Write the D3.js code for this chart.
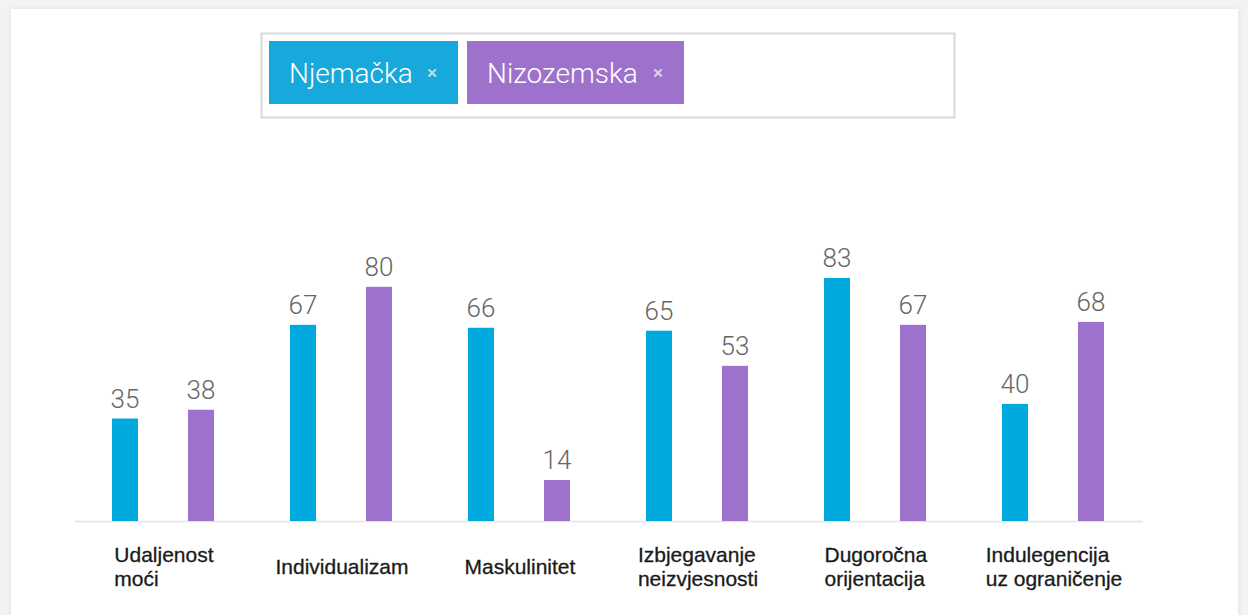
<!DOCTYPE html>
<html>
<head>
<meta charset="utf-8">
<script src="https://cdn.jsdelivr.net/npm/d3@7"></script>
<style>
  body { margin: 0; background: #f3f3f3; overflow: hidden; }
  #card { position: absolute; left: 11px; top: 9px; width: 1227px; height: 620px; background: #fff;
          box-shadow: 0 0 6px rgba(0,0,0,0.08); }
  svg { position: absolute; left: 0; top: 0; }
</style>
</head>
<body>
<div id="card"></div>
<svg width="1248" height="615"></svg>
<script>
// categories and series
var categories = [
  ["Udaljenost", "moći"],
  ["Individualizam"],
  ["Maskulinitet"],
  ["Izbjegavanje", "neizvjesnosti"],
  ["Dugoročna", "orijentacija"],
  ["Indulegencija", "uz ograničenje"]
];
var seriesNames = ["Njemačka", "Nizozemska"];
var njemacka = [35, 67, 66, 65, 83, 40];
var nizozemska = [38, 80, 14, 53, 67, 68];
var colors = ["#00a9de", "#9d72cc"];
var chipColors = ["#17a9dc", "#9e72cc"];

var svg = d3.select("svg");
var baseY = 521;

var catKeys = categories.map(function(c){ return c.join(" "); });
var x0 = d3.scaleBand().domain(catKeys).range([75, 1143]);
var x1 = d3.scaleBand().domain(seriesNames).range([12, 164]);
var y = d3.scaleLinear().domain([0, 83]).range([baseY, 278]);
var barW = 26;

var rows = catKeys.map(function(k, i){
  return { key: k, lines: categories[i], vals: [njemacka[i], nizozemska[i]] };
});

// legend box with chips
svg.append("rect").attr("x", 261.5).attr("y", 33.5).attr("width", 693).attr("height", 84)
  .attr("fill", "#fff").attr("stroke", "#d9d9d9").attr("stroke-width", 2);
var chipX = [269, 467], chipW = [189, 217];
seriesNames.forEach(function(s, i){
  var g = svg.append("g").attr("transform", "translate(" + chipX[i] + ",41)");
  g.append("rect").attr("width", chipW[i]).attr("height", 63).attr("fill", chipColors[i]);
  g.append("text").attr("x", 20).attr("y", 42).text(s)
    .attr("fill", "#fff").style("font-family", "Roboto").style("font-weight", 300)
    .style("font-size", "28px");
  g.append("text").attr("x", chipW[i] - 31).attr("y", 38).text("×")
    .attr("fill", "rgba(225,225,225,0.9)").style("font-family", "Roboto")
    .style("font-weight", 500).style("font-size", "19px");
});

// axis line
svg.append("line").attr("x1", 75).attr("x2", 1143).attr("y1", baseY + 0.5).attr("y2", baseY + 0.5)
  .attr("stroke", "#e3e3e3").attr("stroke-width", 1.5);

var groups = svg.selectAll("g.grp").data(rows).enter().append("g")
  .attr("class", "grp")
  .attr("transform", function(d){ return "translate(" + x0(d.key) + ",0)"; });

groups.selectAll("rect").data(function(d){ return d.vals; }).enter().append("rect")
  .attr("x", function(v, j){ return x1(seriesNames[j]) + x1.bandwidth()/2 - barW/2; })
  .attr("y", function(v){ return y(v); })
  .attr("width", barW)
  .attr("height", function(v){ return baseY - y(v); })
  .attr("fill", function(v, j){ return colors[j]; });

groups.selectAll("text.val").data(function(d){ return d.vals; }).enter().append("text")
  .attr("class", "val")
  .attr("x", function(v, j){ return x1(seriesNames[j]) + x1.bandwidth()/2; })
  .attr("y", function(v){ return y(v) - 11; })
  .attr("text-anchor", "middle")
  .attr("fill", "#666")
  .style("font-family", "Roboto").style("font-weight", 300).style("font-size", "26px")
  .text(function(v){ return v; });

// category labels: lines left-aligned, block centred on the group
groups.each(function(d){
  var g = d3.select(this);
  var cx = x0.bandwidth() / 2;
  var n = d.lines.length;
  var t = g.append("text")
    .attr("fill", "#1a1a1a").attr("stroke", "#1a1a1a").attr("stroke-width", 0.3)
    .style("font-family", "Liberation Sans, Arial, sans-serif").style("font-size", "21px");
  d.lines.forEach(function(l, k){
    t.append("tspan").attr("x", 0).attr("y", 567 + 7 + (k - (n - 1) / 2) * 24).text(l);
  });
  var w = t.node().getBBox().width;
  t.selectAll("tspan").attr("x", cx - w / 2);
});
</script>
</body>
</html>
